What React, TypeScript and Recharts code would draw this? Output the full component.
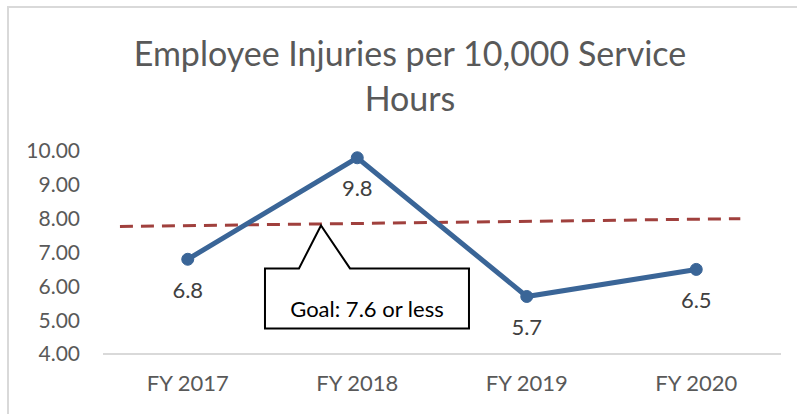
import React from 'react';
import {
  LineChart, Line, XAxis, YAxis, LabelList, ReferenceDot,
} from 'recharts';

// fiscal years, plotted at the middle of each category slot
const years = ['FY 2017', 'FY 2018', 'FY 2019', 'FY 2020'];
const yearPos = [0.5, 1.5, 2.5, 3.5];
const injuries = [6.8, 9.8, 5.7, 6.5];

// dashed goal trend (as drawn in the original sheet)
const goalPos = [0.1, 3.76];
const goalValues = [7.77, 8.0];

const yTicks = [4, 5, 6, 7, 8, 9, 10];

const FONT = 'Lato, "Liberation Sans", sans-serif';

const injuryData = yearPos.map((x, i) => ({ x, label: years[i], value: injuries[i] }));
const goalData = goalPos.map((x, i) => ({ x, goal: goalValues[i] }));

const Callout = (props: any) => {
  const { cx, cy } = props;
  if (cx == null || cy == null) return null;
  // pointer tip sits on the goal line, box hangs below it
  const left = cx - 56;
  const right = cx + 148;
  const top = cy + 43;
  const bottom = cy + 103;
  const d = `M${left},${top} L${cx - 22},${top} L${cx},${cy} L${cx + 29},${top} L${right},${top} L${right},${bottom} L${left},${bottom} Z`;
  return (
    <g>
      <path d={d} fill="#fff" stroke="#000" strokeWidth={2} strokeLinejoin="miter" />
      <text x={(left + right) / 2} y={top + 49} textAnchor="middle" fontSize={22} fill="#000" fontFamily={FONT}>
        Goal: 7.6 or less
      </text>
    </g>
  );
};

export default function App() {
  return (
    <div style={{ position: 'absolute', left: 0, top: 0, width: 797, height: 414, background: '#fff', fontFamily: FONT }}>
      <div style={{ position: 'absolute', left: 7, top: 6, width: 800, height: 420, borderLeft: '2px solid #d9d9d9', borderTop: '2px solid #d9d9d9' }} />
      <div style={{ position: 'absolute', left: 14, top: 30, width: 792, textAlign: 'center', fontSize: 34, lineHeight: '45px', color: '#595959' }}>
        Employee Injuries per 10,000 Service<br />Hours
      </div>
      <div style={{ position: 'absolute', left: 0, top: 0 }}>
        <LineChart width={797} height={414} margin={{ top: 151, right: 16, bottom: 10, left: 0 }}>
          <XAxis
            type="number"
            dataKey="x"
            domain={[0, 4]}
            ticks={yearPos}
            tickFormatter={(v: number) => years[yearPos.indexOf(v)] ?? ''}
            allowDataOverflow
            height={50}
            tickLine={false}
            axisLine={{ stroke: '#d9d9d9', strokeWidth: 2 }}
            tickMargin={15}
            tick={{ fill: '#595959', fontSize: 22, fontFamily: FONT }}
          />
          <YAxis
            type="number"
            domain={[4, 10]}
            ticks={yTicks}
            tickFormatter={(v: number) => v.toFixed(2)}
            width={103}
            tickSize={0}
            tickMargin={23}
            tickLine={false}
            axisLine={false}
            tick={{ fill: '#595959', fontSize: 21, fontFamily: FONT }}
          />
          <Line
            data={goalData}
            dataKey="goal"
            stroke="#a0403d"
            strokeWidth={3}
            strokeDasharray="13 8"
            dot={false}
            activeDot={false}
            isAnimationActive={false}
          />
          <Line
            data={injuryData}
            dataKey="value"
            stroke="#3a6597"
            strokeWidth={5}
            dot={{ r: 6, fill: '#3a6597', stroke: '#3a6597', strokeWidth: 1 }}
            activeDot={false}
            isAnimationActive={false}
          >
            <LabelList
              dataKey="value"
              position="bottom"
              offset={23}
              formatter={(v: number) => v.toFixed(1)}
              style={{ fill: '#404040', fontSize: 22, fontFamily: FONT }}
            />
          </Line>
          <ReferenceDot x={1.286} y={7.8} r={0} shape={<Callout />} ifOverflow="visible" />
        </LineChart>
      </div>
    </div>
  );
}
